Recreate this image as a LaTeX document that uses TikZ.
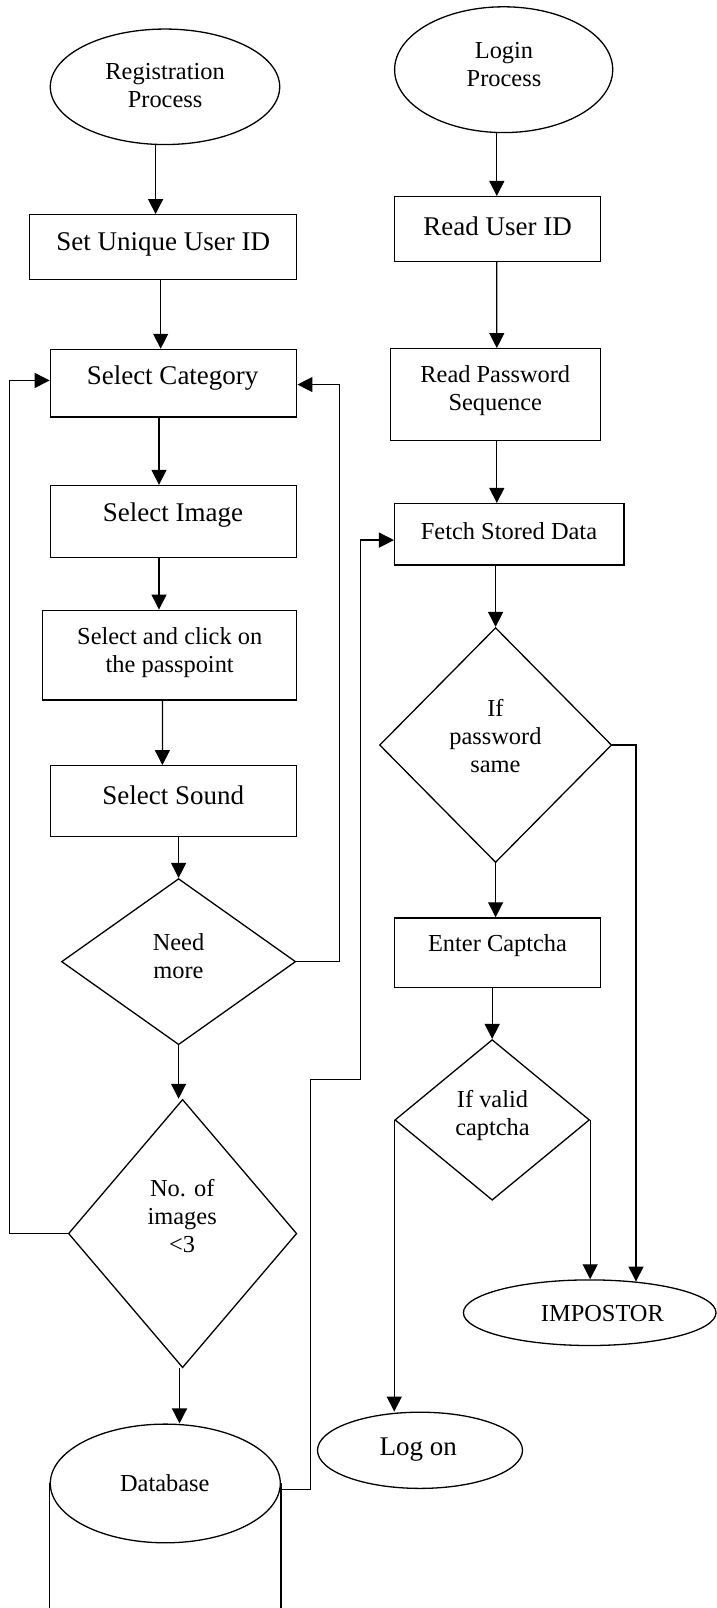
\documentclass[tikz,border=0pt]{standalone}
\usepackage{fontspec}
\setmainfont{Liberation Serif}
\usetikzlibrary{shapes.geometric,arrows.meta}
\begin{document}
\begin{tikzpicture}[x=1pt,y=-1pt,line width=1.3pt,
  box/.style={draw,rectangle,inner sep=0pt},
  oval/.style={draw,ellipse,inner sep=0pt},
  dia/.style={draw,diamond,inner sep=0pt},
  arr/.style={-{Triangle[length=15pt,width=15pt]}},
  big/.style={font=\fontsize{27}{32}\selectfont},
  sml/.style={font=\fontsize{24.4}{28}\selectfont,align=center}]
\useasboundingbox (0,0) rectangle (717,1608);

% shapes
\node[oval,minimum width=229.4pt,minimum height=115.5pt] (reg) at (165,86.8) {};
\node[oval,minimum width=218.1pt,minimum height=125.8pt] (login) at (503.65,69.7) {};
\node[box,minimum width=267.1pt,minimum height=64.6pt] (setid) at (163.25,247) {};
\node[box,minimum width=206.1pt,minimum height=64.9pt] (readid) at (497.65,229.05) {};
\node[box,minimum width=246.5pt,minimum height=67.7pt] (cat) at (173.55,383.25) {};
\node[box,minimum width=210.2pt,minimum height=91.6pt] (readpw) at (495.6,394.5) {};
\node[box,minimum width=246.5pt,minimum height=72pt] (img) at (173.55,521.5) {};
\node[box,minimum width=229.4pt,minimum height=61.5pt] (fetch) at (509.3,534.35) {};
\node[box,minimum width=254.1pt,minimum height=89.9pt] (click) at (169.75,655.15) {};
\node[dia,minimum width=232.2pt,minimum height=234.9pt] (pwd) at (495.6,745.05) {};
\node[box,minimum width=246.5pt,minimum height=70.5pt] (sound) at (173.55,800.95) {};
\node[box,minimum width=206.1pt,minimum height=69.4pt] (cap) at (497.65,952.6) {};
\node[dia,minimum width=234.2pt,minimum height=166.1pt] (need) at (178.6,961.65) {};
\node[dia,minimum width=194.6pt,minimum height=160.6pt] (valid) at (492.2,1119.9) {};
\node[dia,minimum width=228.4pt,minimum height=268.3pt] (nimg) at (182.6,1233.55) {};
\node[oval,minimum width=252.6pt,minimum height=65.6pt] (imp) at (589.7,1312.7) {};
\node[oval,minimum width=205pt,minimum height=76.2pt] (logon) at (420,1450.3) {};
\node[oval,minimum width=230pt,minimum height=118.7pt] (db) at (165.3,1483.45) {};

% texts
\node[sml] (regt) at (165.1,85.1) {Registration\\Process};
\node[sml] (logint) at (504,64.4) {Login\\Process};
\node[big] (setidt) at (163.2,244.2) {Set Unique User ID};
\node[big] (readidt) at (497.7,226.4) {Read User ID};
\node[big] (catt) at (172.6,377.9) {Select Category};
\node[sml] (readpwt) at (495.3,391) {Read Password\\Sequence};
\node[big] (imgt) at (173,515.3) {Select Image};
\node[sml] (fetcht) at (509,531.5) {Fetch Stored Data};
\node[sml] (clickt) at (169.7,652.7) {Select and click on\\the passpoint};
\node[sml] (pwdt) at (495.4,736) {If\\password\\same};
\node[big] (soundt) at (173.2,795.6) {Select Sound};
\node[sml] (capt) at (497.5,946) {Enter Captcha};
\node[sml] (needt) at (178.5,956) {Need\\more};
\node[sml] (validt) at (492.5,1115.5) {If valid\\captcha};
\node[sml] (nimgt) at (182.2,1216.4) {No. of\\images\\<3};
\node[sml] (impt) at (602.4,1313.8) {IMPOSTOR};
\node[sml] (dbt) at (164.8,1483) {Database};
\node[big] (logont) at (418.3,1449.5) {Log on};

% left column connectors
\draw[arr] ([xshift=-9.4pt]reg.south) -- ([xshift=-7.65pt]setid.north);
\draw[arr] ([xshift=-2.55pt]setid.south) -- ([xshift=-12.85pt]cat.north);
\draw[arr] ([xshift=-14.55pt]cat.south) -- ([xshift=-14.55pt]img.north);
\draw[arr] ([xshift=-14.55pt]img.south) -- ([xshift=-10.75pt]click.north);
\draw[arr] ([xshift=-7.35pt]click.south) -- ([xshift=-11.15pt]sound.north);
\draw[arr] (sound.south -| need.north) -- (need.north);
\draw[arr] (need.south) -- (need.south |- nimg.north);
\draw[arr] ([xshift=-3.1pt]nimg.south) -- ([xshift=14.2pt]db.north);
\draw[arr] (need.east) -- ++(43.4,0) |- ([yshift=-1.3pt]cat.east);
\draw[arr] (nimg.west) -- ++(-58.1,0) |- ([yshift=2.8pt]cat.west);

% database sides
\coordinate (dbbot) at (165.3,1612);
\draw (db.west) -- (db.west |- dbbot);
\draw (db.east) -- (db.east |- dbbot);

% database to fetch
\coordinate (c1) at (310.4,1079.5);
\coordinate (c2) at (360.7,540.1);
\draw[arr] ([yshift=-6.3pt]db.east) -| (c1) -| (c2) |- ([yshift=-5.75pt]fetch.west);

% right column connectors
\draw[arr] ([xshift=-6.85pt]login.south) -- ([xshift=-0.85pt]readid.north);
\draw[arr] ([xshift=-0.85pt]readid.south) -- ([xshift=1.2pt]readpw.north);
\draw[arr] ([xshift=1.2pt]readpw.south) -- ([xshift=-12.5pt]fetch.north);
\draw[arr] (fetch.south -| pwd.north) -- (pwd.north);
\draw[arr] (pwd.south) -- (pwd.south |- cap.north);
\draw[arr] (cap.south -| valid.north) -- (valid.north);
\draw[arr] (valid.west) -- (valid.west |- logon.north);
\draw[arr] (valid.east) -- (valid.east |- imp.north);
\draw[arr] (pwd.east) -| ([xshift=46.3pt,yshift=-2.3pt]imp.north);
\end{tikzpicture}
\end{document}
